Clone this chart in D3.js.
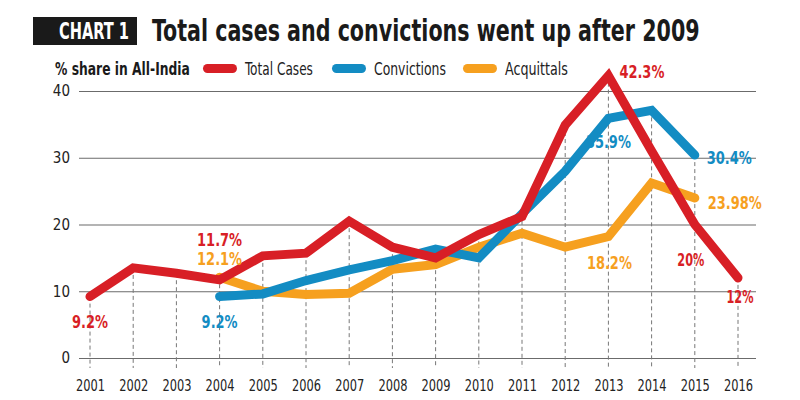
<!DOCTYPE html>
<html><head><meta charset="utf-8">
<script src="https://cdn.jsdelivr.net/npm/d3@7/dist/d3.min.js"></script>
<style>
body{margin:0;background:#fff;}
svg{display:block;}
text{font-family:"DejaVu Sans Condensed","DejaVu Sans",sans-serif;}
</style></head>
<body>
<svg id="c" width="800" height="400"></svg>
<script>
const years = [2001,2002,2003,2004,2005,2006,2007,2008,2009,2010,2011,2012,2013,2014,2015,2016];
const totalCases  = [9.2,13.5,12.7,11.7,15.3,15.7,20.5,16.6,15.0,18.5,21.2,34.9,42.3,31.0,20.0,12.0];
const convictions = [null,null,null,9.2,9.6,11.6,13.2,14.6,16.3,15.0,21.6,28.0,35.9,37.1,30.4,null];
const acquittals  = [null,null,null,12.1,10.0,9.5,9.7,13.3,14.0,16.6,18.7,16.6,18.2,26.2,23.98,null];
const yTicks = [0,10,20,30,40];
const seriesNames = ["Total Cases","Convictions","Acquittals"];
const colors = {"Total Cases":"#d81f26","Convictions":"#138cc3","Acquittals":"#f6a01f"};
const labels = [
  {s:"Total Cases", year:2001, text:"9.2%", dx:0, dy:31, anchor:"middle"},
  {s:"Total Cases", year:2004, text:"11.7%", dx:0, dy:-34, anchor:"middle"},
  {s:"Acquittals", year:2004, text:"12.1%", dx:0, dy:-12, anchor:"middle"},
  {s:"Convictions", year:2004, text:"9.2%", dx:0, dy:31, anchor:"middle"},
  {s:"Total Cases", year:2013, text:"42.3%", dx:11, dy:2, anchor:"start"},
  {s:"Convictions", year:2013, text:"35.9%", dx:0, dy:30, anchor:"middle"},
  {s:"Convictions", year:2015, text:"30.4%", dx:12, dy:9, anchor:"start"},
  {s:"Acquittals", year:2015, text:"23.98%", dx:13, dy:11, anchor:"start"},
  {s:"Acquittals", year:2013, text:"18.2%", dx:1, dy:32, anchor:"middle"},
  {s:"Total Cases", year:2015, text:"20%", dx:-4, dy:41, anchor:"middle"},
  {s:"Total Cases", year:2016, text:"12%", dx:2, dy:25, anchor:"middle"}
];
const data = {"Total Cases":totalCases,"Convictions":convictions,"Acquittals":acquittals};

const svg = d3.select("#c");
const x = d3.scaleLinear().domain([2001,2016]).range([90,738]);
const y = d3.scaleLinear().domain([0,40]).range([358,91]);

// fit text horizontally to a target width by scaling (keeps glyph height)
function fitText(sel, x0, y0, width){
  const w = sel.node().getComputedTextLength();
  sel.attr("transform",`translate(${x0},${y0}) scale(${width/w},1)`);
}

// title
svg.append("rect").attr("x",33).attr("y",17).attr("width",104).attr("height",28).attr("fill","#1a1a1a");
fitText(svg.append("text").attr("fill","#fff").attr("font-size",23).attr("font-weight","bold").text("CHART 1"), 59, 39, 70);
fitText(svg.append("text").attr("fill","#1a1a1a").attr("font-size",30).attr("font-weight","bold")
  .text("Total cases and convictions went up after 2009"), 152, 41, 548);

// legend
fitText(svg.append("text").attr("fill","#1a1a1a").attr("font-size",18).attr("font-weight","bold")
  .text("% share in All-India"), 55, 75, 135);
const legX = [203,332,463];
const legW = [68,72,63];
seriesNames.forEach((n,i)=>{
  svg.append("rect").attr("x",legX[i]).attr("y",64).attr("width",34).attr("height",9).attr("rx",4.5).attr("fill",colors[n]);
  fitText(svg.append("text").attr("fill","#222").attr("font-size",18).text(n), legX[i]+42, 75, legW[i]);
});

// gridlines
const yAxis = d3.axisLeft(y).tickValues(yTicks).tickSize(-(756-79)).tickPadding(9);
const gy = svg.append("g").attr("transform","translate(79,0)").call(yAxis);
gy.select(".domain").remove();
gy.selectAll(".tick line").attr("stroke","#6b6b6b").attr("stroke-width",1.2);
gy.selectAll(".tick text").attr("font-size",15).attr("fill","#222").attr("font-family","'DejaVu Sans Condensed',sans-serif");

// vertical dashed lines
const maxVals = years.map((yr,i)=>d3.max(seriesNames.map(n=>data[n][i])));
svg.append("g").selectAll("line").data(years).join("line")
  .attr("x1",d=>x(d)).attr("x2",d=>x(d))
  .attr("y1",(d,i)=>y(maxVals[i])).attr("y2",y(0)+10)
  .attr("stroke","#777").attr("stroke-width",1).attr("stroke-dasharray","4,3");

// x axis labels
const xAxis = d3.axisBottom(x).tickValues(years).tickFormat(d3.format("d")).tickSize(0).tickPadding(22);
const gx = svg.append("g").attr("transform",`translate(0,${y(0)})`).call(xAxis);
gx.select(".domain").remove();
gx.selectAll(".tick text").attr("font-size",16).attr("fill","#222").attr("font-family","'DejaVu Sans Condensed',sans-serif")
  .attr("textLength",29).attr("lengthAdjust","spacingAndGlyphs");

// lines
const line = d3.line().defined(d=>d.v!=null).x(d=>x(d.year)).y(d=>y(d.v));
["Acquittals","Convictions","Total Cases"].forEach(n=>{
  const pts = years.map((yr,i)=>({year:yr,v:data[n][i]}));
  svg.append("path").datum(pts).attr("d",line).attr("fill","none")
    .attr("stroke",colors[n]).attr("stroke-width",9).attr("stroke-linejoin","miter").attr("stroke-linecap","round");
});

// value labels
svg.append("g").selectAll("text").data(labels).join("text")
  .attr("x",d=>x(d.year)+d.dx)
  .attr("y",d=>y(data[d.s][years.indexOf(d.year)])+d.dy)
  .attr("text-anchor",d=>d.anchor)
  .attr("fill",d=>colors[d.s])
  .attr("font-size",17.5).attr("font-weight","bold")
  .attr("textLength",d=>d.text.length*9).attr("lengthAdjust","spacingAndGlyphs")
  .text(d=>d.text);
</script>
</body></html>
